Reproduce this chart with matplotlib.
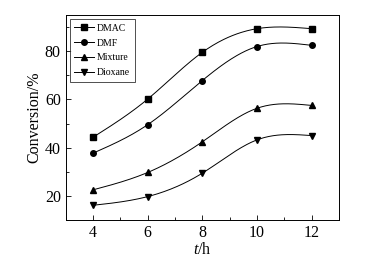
import numpy as np
import matplotlib
matplotlib.use("Agg")
import matplotlib.pyplot as plt
from matplotlib.ticker import MultipleLocator

t_hours = [4, 6, 8, 10, 12]
dmac = [44.3, 60.1, 79.5, 89.3, 89.3]
dmf = [37.7, 49.5, 67.8, 81.9, 82.4]
mixture = [22.5, 29.7, 42.4, 56.3, 57.5]
dioxane = [16.1, 19.7, 29.4, 43.2, 45.0]
series_names = ["DMAC", "DMF", "Mixture", "Dioxane"]
markers = ["s", "o", "^", "v"]

plt.rcParams['font.family'] = ['Liberation Serif', 'DejaVu Serif']
plt.rcParams['mathtext.fontset'] = 'custom'
plt.rcParams['mathtext.it'] = 'Liberation Serif:italic'
plt.rcParams['mathtext.rm'] = 'Liberation Serif'


def natural_spline(x, y, n=200):
    x = np.asarray(x, float); y = np.asarray(y, float)
    k = len(x)
    h = np.diff(x)
    A = np.zeros((k, k)); b = np.zeros(k)
    A[0, 0] = 1; A[-1, -1] = 1
    for i in range(1, k - 1):
        A[i, i - 1] = h[i - 1]
        A[i, i] = 2 * (h[i - 1] + h[i])
        A[i, i + 1] = h[i]
        b[i] = 3 * ((y[i + 1] - y[i]) / h[i] - (y[i] - y[i - 1]) / h[i - 1])
    c = np.linalg.solve(A, b)
    xs = np.linspace(x[0], x[-1], n)
    ys = np.empty_like(xs)
    for j, xv in enumerate(xs):
        i = min(np.searchsorted(x, xv, side='right') - 1, k - 2)
        dx = xv - x[i]
        bi = (y[i + 1] - y[i]) / h[i] - h[i] * (2 * c[i] + c[i + 1]) / 3
        di = (c[i + 1] - c[i]) / (3 * h[i])
        ys[j] = y[i] + bi * dx + c[i] * dx ** 2 + di * dx ** 3
    return xs, ys


fig = plt.figure(figsize=(3.82, 2.67), dpi=100)
ax = fig.add_axes([0.172, 0.176, 0.715, 0.768])

for name, vals, m in zip(series_names, [dmac, dmf, mixture, dioxane], markers):
    xs, ys = natural_spline(t_hours, vals)
    ax.plot(xs, ys, color='black', lw=0.7)
    ax.plot(t_hours, vals, linestyle='none', marker=m, color='black', ms=4)
    ax.plot([], [], color='black', lw=0.7, marker=m, ms=4, label=name)

ax.set_xlim(3, 13)
ax.set_ylim(10, 95)
ax.xaxis.set_major_locator(MultipleLocator(2))
ax.xaxis.set_minor_locator(MultipleLocator(1))
ax.yaxis.set_major_locator(MultipleLocator(20))
ax.yaxis.set_minor_locator(MultipleLocator(10))
ax.tick_params(which='both', direction='in', labelsize=11.5, width=0.6)
ax.tick_params(which='major', length=3.5)
ax.tick_params(which='minor', length=2)
for s in ax.spines.values():
    s.set_linewidth(0.7)

ax.set_xlabel('$t$/h', fontsize=11.5, labelpad=1)
ax.set_ylabel('Conversion/%', fontsize=11.5, labelpad=2)

leg = ax.legend(loc='upper left', fontsize=7, frameon=True, fancybox=False,
                edgecolor='black', handlelength=2.0, handletextpad=0.3,
                borderpad=0.5, labelspacing=0.6, borderaxespad=0.4)
leg.get_frame().set_linewidth(0.6)

fig.savefig('out.png', dpi=100)
